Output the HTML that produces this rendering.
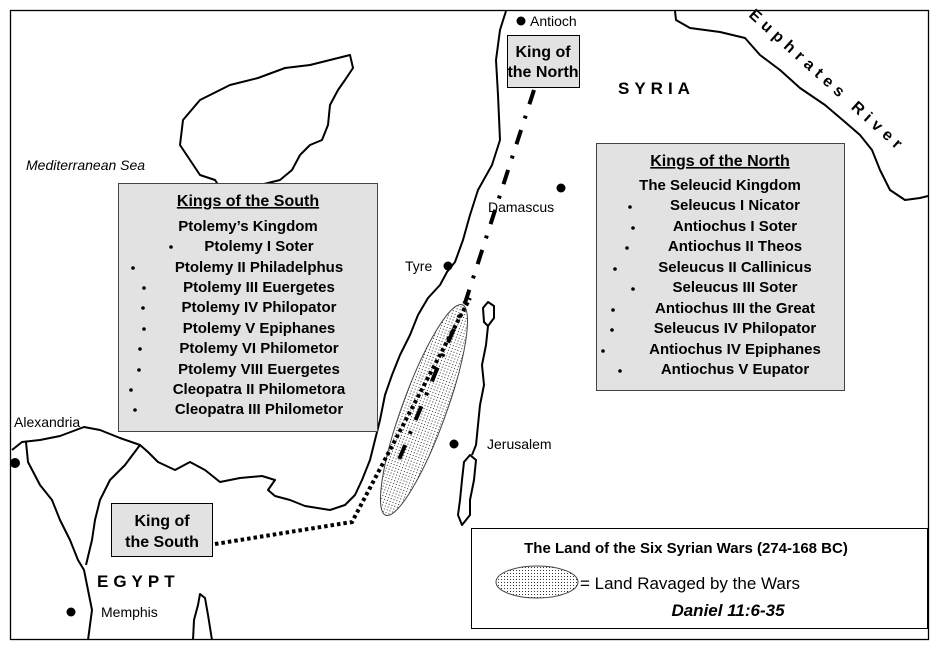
<!DOCTYPE html>
<html><head><meta charset="utf-8"><style>
html,body{margin:0;padding:0;background:#fff;}
svg{display:block;font-family:"Liberation Sans",Arial,sans-serif;}
.b{font-weight:bold;fill:#000;}
</style></head><body>
<svg width="940" height="648" viewBox="0 0 940 648" xmlns="http://www.w3.org/2000/svg">
<defs>
<pattern id="dots" width="3" height="3" patternUnits="userSpaceOnUse"><rect width="3" height="3" fill="#fff"/><rect width="1" height="1" fill="#333"/></pattern>
</defs>
<rect x="0" y="0" width="940" height="648" fill="#fff"/>
<rect x="10.5" y="10.5" width="918" height="629" fill="none" stroke="#000" stroke-width="1.3"/>
<g fill="none" stroke="#000" stroke-width="2" stroke-linejoin="round">
<path d="M183,120 L200,100 L230,85 L258,78 L285,68 L310,65 L330,60 L350,55 L353,68 L345,80 L338,90 L330,105 L328,125 L322,140 L310,145 L300,155 L292,170 L280,180 L260,185 L250,200 L235,205 L225,195 L215,180 L200,175 L190,160 L180,145 Z"/>
<path d="M506,11 L500,30 L496,60 L498,95 L500,140 L492,165 L478,190 L470,215 L463,240 L455,262 L447,272 L440,285 L428,298 L418,315 L410,335 L400,355 L392,375 L385,395 L380,420 L375,440 L370,460 L362,480 L355,495 L345,505 L330,510 L305,506 L290,500 L275,496 L268,490 L275,480 L262,476 L240,478 L220,482 L205,470 L190,462 L175,470 L158,462 L148,452 L140,445 L120,438 L100,430 L84,427 L60,436 L40,440 L22,442 L12,450"/>
<path d="M26,442 L28,462 L40,485 L52,500 L60,520 L70,540 L78,560 L84,570 L88,590 L92,610 L90,625 L88,640"/>
<path d="M140,445 L125,465 L110,480 L100,500 L95,520 L92,540 L86,565"/>
<path d="M193,640 L194,620 L198,605 L200,594 L205,598 L208,615 L212,640"/>
<path d="M483,308 L488,302 L494,306 L494,318 L488,326 L484,322 Z"/>
<path d="M488,326 L486,345 L482,365 L484,385 L480,405 L478,425 L476,445 L472,455"/>
<path d="M470,455 L476,460 L474,480 L470,500 L470,515 L462,525 L458,515 L460,500 L462,480 L464,462 Z"/>
<path d="M675,11 L676,20 L690,28 L720,32 L745,38 L760,55 L780,70 L800,88 L825,105 L845,122 L860,135 L872,150 L880,170 L890,190 L905,200 L920,198 L928,196"/>
</g>
<ellipse cx="424" cy="410" rx="22" ry="112" transform="rotate(20 424 410)" fill="url(#dots)" stroke="#444" stroke-width="1"/>
<path d="M534,90 L466,300 L398,462" fill="none" stroke="#000" stroke-width="4" stroke-dasharray="15,12,3,12"/>
<path d="M215,544 L352,522 L470,298" fill="none" stroke="#000" stroke-width="4" stroke-dasharray="3.5,3"/>
<g fill="#000">
<circle cx="521" cy="21" r="4.5"/>
<circle cx="561" cy="188" r="4.5"/>
<circle cx="448" cy="266" r="4.5"/>
<circle cx="454" cy="444" r="4.5"/>
<circle cx="15" cy="463" r="5"/>
<circle cx="71" cy="612" r="4.5"/>
</g>
<g font-size="14" fill="#000">
<text x="530" y="26">Antioch</text>
<text x="488" y="212">Damascus</text>
<text x="405" y="271">Tyre</text>
<text x="487" y="449">Jerusalem</text>
<text x="14" y="427">Alexandria</text>
<text x="101" y="617">Memphis</text>
<text x="26" y="170" font-style="italic">Mediterranean Sea</text>
</g>
<text x="618" y="94" class="b" font-size="17" letter-spacing="5">SYRIA</text>
<text x="97" y="587" class="b" font-size="17" letter-spacing="5">EGYPT</text>
<text x="0" y="0" font-size="16" font-weight="bold" letter-spacing="5.5" transform="translate(748,16) rotate(42)">Euphrates River</text>
<rect x="507.5" y="35.5" width="72" height="52" fill="#e2e2e2" stroke="#000"/>
<text x="543" y="57" class="b" font-size="16" text-anchor="middle">King of</text>
<text x="543" y="77" class="b" font-size="16" text-anchor="middle">the North</text>
<rect x="111.5" y="503.5" width="101" height="53" fill="#e2e2e2" stroke="#000"/>
<text x="162" y="526" class="b" font-size="16" text-anchor="middle">King of</text>
<text x="162" y="547" class="b" font-size="16" text-anchor="middle">the South</text>
<rect x="118.5" y="183.5" width="259" height="248" fill="#e2e2e2" stroke="#444"/>
<g class="b" font-size="15" font-weight="bold" text-anchor="middle">
<text x="248" y="206" font-size="16" text-decoration="underline">Kings of the South</text>
<text x="248" y="231">Ptolemy’s  Kingdom</text>
<text x="259" y="251">Ptolemy I Soter</text>
<text x="259" y="272">Ptolemy II Philadelphus</text>
<text x="259" y="292">Ptolemy III Euergetes</text>
<text x="259" y="312">Ptolemy IV Philopator</text>
<text x="259" y="333">Ptolemy V Epiphanes</text>
<text x="259" y="353">Ptolemy VI Philometor</text>
<text x="259" y="374">Ptolemy VIII Euergetes</text>
<text x="259" y="394">Cleopatra II Philometora</text>
<text x="259" y="414">Cleopatra III Philometor</text>
</g>
<g fill="#000">
<circle cx="171" cy="247" r="1.8"/><circle cx="133" cy="268" r="1.8"/><circle cx="144" cy="288" r="1.8"/><circle cx="143" cy="308" r="1.8"/><circle cx="144" cy="329" r="1.8"/><circle cx="140" cy="349" r="1.8"/><circle cx="139" cy="370" r="1.8"/><circle cx="131" cy="390" r="1.8"/><circle cx="135" cy="410" r="1.8"/>
</g>
<rect x="596.5" y="143.5" width="248" height="247" fill="#e2e2e2" stroke="#444"/>
<g class="b" font-size="15" font-weight="bold" text-anchor="middle">
<text x="720" y="166" font-size="16" text-decoration="underline">Kings of the North</text>
<text x="720" y="190">The Seleucid Kingdom</text>
<text x="735" y="210">Seleucus I Nicator</text>
<text x="735" y="231">Antiochus I Soter</text>
<text x="735" y="251">Antiochus II Theos</text>
<text x="735" y="272">Seleucus II Callinicus</text>
<text x="735" y="292">Seleucus III Soter</text>
<text x="735" y="313">Antiochus III the Great</text>
<text x="735" y="333">Seleucus IV Philopator</text>
<text x="735" y="354">Antiochus IV Epiphanes</text>
<text x="735" y="374">Antiochus V Eupator</text>
</g>
<g fill="#000">
<circle cx="630" cy="207" r="1.8"/><circle cx="633" cy="228" r="1.8"/><circle cx="627" cy="248" r="1.8"/><circle cx="615" cy="269" r="1.8"/><circle cx="633" cy="289" r="1.8"/><circle cx="613" cy="310" r="1.8"/><circle cx="612" cy="330" r="1.8"/><circle cx="603" cy="351" r="1.8"/><circle cx="620" cy="371" r="1.8"/>
</g>
<rect x="471.5" y="528.5" width="456" height="100" fill="#fff" stroke="#000"/>
<text x="686" y="553" class="b" font-size="15" font-weight="bold" text-anchor="middle">The Land of the Six Syrian Wars (274-168 BC)</text>
<ellipse cx="537" cy="582" rx="41" ry="16" fill="url(#dots)" stroke="#444"/>
<text x="580" y="589" font-size="17">= Land Ravaged by the Wars</text>
<text x="728" y="616" class="b" font-size="17" font-weight="bold" font-style="italic" text-anchor="middle">Daniel 11:6-35</text>
</svg>
</body></html>
